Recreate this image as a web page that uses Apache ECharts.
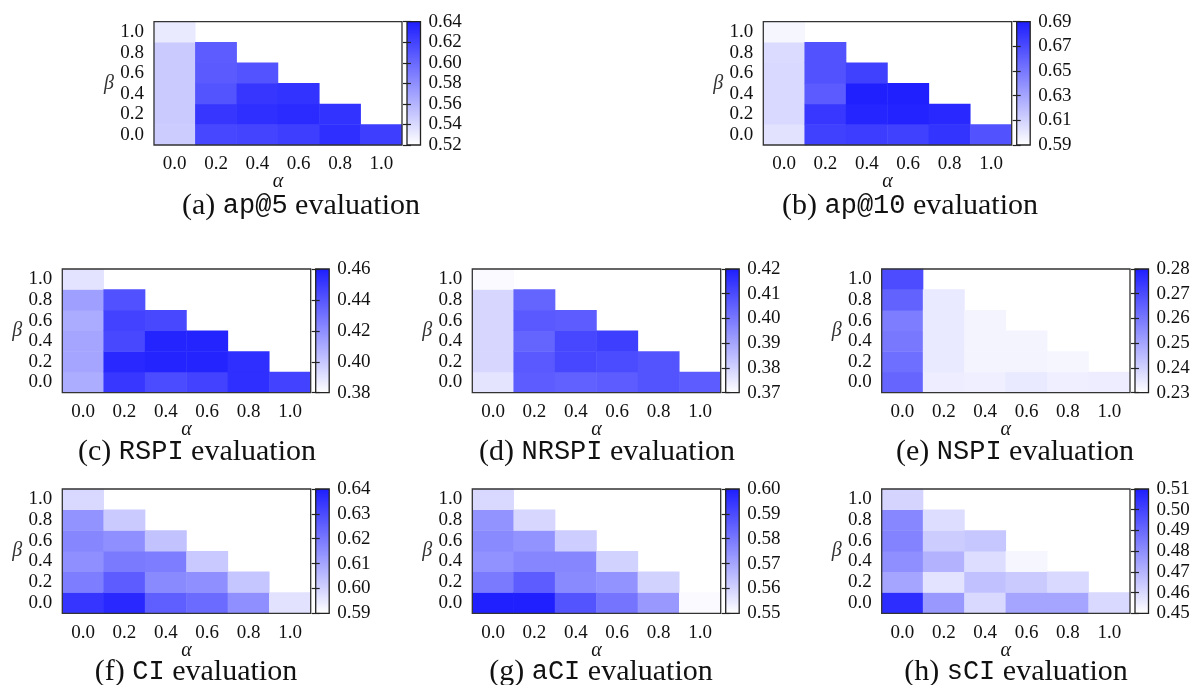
<!doctype html>
<html>
<head>
<meta charset="utf-8">
<script src="https://cdn.jsdelivr.net/npm/echarts@6/dist/echarts.min.js"></script>
<style>
html,body{margin:0;padding:0;background:#fff;}
#main{width:1193px;height:685px;}
</style>
</head>
<body>
<div id="main"></div>
<script type="text/javascript">
// alpha / beta grid steps
var steps = ['0.0', '0.2', '0.4', '0.6', '0.8', '1.0'];

// each list = one alpha column, values from beta=0.0 upwards (alpha+beta<=1)
var ap5 = [
  [0.547, 0.548, 0.548, 0.548, 0.548, 0.531],
  [0.618, 0.627, 0.611, 0.608, 0.607],
  [0.620, 0.631, 0.627, 0.612],
  [0.623, 0.633, 0.629],
  [0.631, 0.629],
  [0.623]
];
var ap10 = [
  [0.603, 0.607, 0.607, 0.607, 0.606, 0.594],
  [0.675, 0.679, 0.663, 0.667, 0.667],
  [0.676, 0.687, 0.689, 0.675],
  [0.675, 0.688, 0.689],
  [0.680, 0.685],
  [0.667]
];
var rspi = [
  [0.409, 0.412, 0.412, 0.410, 0.414, 0.390],
  [0.451, 0.456, 0.445, 0.447, 0.442],
  [0.444, 0.458, 0.458, 0.445],
  [0.447, 0.458, 0.458],
  [0.454, 0.454],
  [0.447]
];
var nrspi = [
  [0.376, 0.379, 0.379, 0.379, 0.379, 0.371],
  [0.406, 0.407, 0.4045, 0.407, 0.4045],
  [0.405, 0.411, 0.411, 0.406],
  [0.406, 0.410, 0.413],
  [0.408, 0.408],
  [0.406]
];
var nspi = [
  [0.264, 0.262, 0.260, 0.259, 0.265, 0.2695],
  [0.234, 0.235, 0.235, 0.235, 0.235],
  [0.2335, 0.2325, 0.2325, 0.2325],
  [0.235, 0.2325, 0.2325],
  [0.2335, 0.232],
  [0.234]
];
var ci = [
  [0.635, 0.619, 0.615, 0.617, 0.614, 0.5985],
  [0.6375, 0.626, 0.6195, 0.615, 0.6017],
  [0.6255, 0.616, 0.619, 0.6035],
  [0.623, 0.615, 0.602],
  [0.615, 0.603],
  [0.5965]
];
var aci = [
  [0.5995, 0.5795, 0.5745, 0.576, 0.574, 0.5585],
  [0.5995, 0.586, 0.577, 0.574, 0.559],
  [0.588, 0.576, 0.577, 0.561],
  [0.581, 0.574, 0.560],
  [0.573, 0.560],
  [0.551]
];
var sci = [
  [0.506, 0.474, 0.480, 0.483, 0.482, 0.4615],
  [0.4775, 0.4575, 0.4705, 0.4635, 0.459],
  [0.460, 0.4665, 0.459, 0.465],
  [0.474, 0.464, 0.4525],
  [0.474, 0.460],
  [0.460]
];

// colorbar tick labels
var ap5Ticks = ['0.52', '0.54', '0.56', '0.58', '0.60', '0.62', '0.64'];
var ap10Ticks = ['0.59', '0.61', '0.63', '0.65', '0.67', '0.69'];
var rspiTicks = ['0.38', '0.40', '0.42', '0.44', '0.46'];
var nrspiTicks = ['0.37', '0.38', '0.39', '0.40', '0.41', '0.42'];
var nspiTicks = ['0.23', '0.24', '0.25', '0.26', '0.27', '0.28'];
var ciTicks = ['0.59', '0.60', '0.61', '0.62', '0.63', '0.64'];
var aciTicks = ['0.55', '0.56', '0.57', '0.58', '0.59', '0.60'];
var sciTicks = ['0.45', '0.46', '0.47', '0.48', '0.49', '0.50', '0.51'];

var tags = ['(a) ', '(b) ', '(c) ', '(d) ', '(e) ', '(f) ', '(g) ', '(h) '];
var metrics = ['ap@5', 'ap@10', 'RSPI', 'NRSPI', 'NSPI', 'CI', 'aCI', 'sCI'];

var panels = [
  {vals: ap5, ticks: ap5Ticks, plot: [154, 21.7, 248, 123.3], bar: 407, cap: [301, 206]},
  {vals: ap10, ticks: ap10Ticks, plot: [763.3, 21.7, 248.4, 123.3], bar: 1016.7, cap: [910, 206]},
  {vals: rspi, ticks: rspiTicks, plot: [62.3, 269, 248.4, 123.7], bar: 315.7, cap: [197, 452]},
  {vals: nrspi, ticks: nrspiTicks, plot: [472.3, 269, 248.4, 123.7], bar: 725.7, cap: [607, 452]},
  {vals: nspi, ticks: nspiTicks, plot: [881.7, 269, 248.3, 123.7], bar: 1135, cap: [1015, 452]},
  {vals: ci, ticks: ciTicks, plot: [62.3, 489, 248.4, 124.3], bar: 315.7, cap: [196, 672]},
  {vals: aci, ticks: aciTicks, plot: [472.3, 489, 248.4, 124.3], bar: 725.7, cap: [601, 672]},
  {vals: sci, ticks: sciTicks, plot: [881.7, 489, 248.3, 124.3], bar: 1135, cap: [1016, 672]}
];

var BLUE = '#1e1eff';
var SERIF = '"Liberation Serif", "Times New Roman", serif';
var MONO = '"Liberation Mono", monospace';
var INK = '#111';
var BAR_W = 13.5;

var myChart = echarts.init(document.getElementById('main'));

var grid = [], xAxis = [], yAxis = [], series = [], visualMap = [], graphic = [];

function barTicks(pos, g, ticks, labels) {
  return {
    gridIndex: g, type: 'category', data: ticks, boundaryGap: false, position: pos, z: 12,
    axisLine: {show: false},
    axisTick: {show: true, inside: true, length: 4, interval: 0, lineStyle: {color: '#222', width: 1.2}},
    axisLabel: labels ? {interval: 0, margin: 8, fontFamily: SERIF, fontSize: 19, color: INK} : {show: false}
  };
}

panels.forEach(function (p, k) {
  var g = grid.length;
  var xi = xAxis.length, yi = yAxis.length;
  // heatmap frame
  grid.push({left: p.plot[0], top: p.plot[1], width: p.plot[2], height: p.plot[3],
    show: true, borderColor: '#333', borderWidth: 1.3, backgroundColor: 'transparent', z: 10});
  xAxis.push({
    gridIndex: g, type: 'category', data: steps,
    axisLine: {show: false}, axisTick: {show: false},
    axisLabel: {interval: 0, margin: 10, fontFamily: SERIF, fontSize: 19, color: INK},
    name: 'α', nameLocation: 'middle', nameGap: 27, nameMoveOverlap: false,
    nameTextStyle: {fontFamily: SERIF, fontStyle: 'italic', fontSize: 20, color: INK}
  });
  yAxis.push({
    gridIndex: g, type: 'category', data: steps,
    axisLine: {show: false}, axisTick: {show: false},
    axisLabel: {interval: 0, margin: 10, fontFamily: SERIF, fontSize: 19, color: INK},
    name: 'β', nameLocation: 'middle', nameRotate: 0, nameGap: 40, nameMoveOverlap: false,
    nameTextStyle: {fontFamily: SERIF, fontStyle: 'italic', fontSize: 20, color: '#333'}
  });

  var data = [];
  p.vals.forEach(function (col, i) {
    col.forEach(function (v, j) { data.push([i, j, v]); });
  });
  series.push({
    type: 'heatmap', xAxisIndex: xi, yAxisIndex: yi, data: data,
    itemStyle: {borderWidth: 0},
    emphasis: {disabled: true}
  });
  visualMap.push({
    type: 'continuous', show: false, seriesIndex: k, dimension: 2,
    min: parseFloat(p.ticks[0]), max: parseFloat(p.ticks[p.ticks.length - 1]),
    inRange: {color: ['#ffffff', BLUE]}
  });

  // colorbar: gradient strip underneath, frame + tick axes on top
  graphic.push({
    type: 'rect', z: 1, silent: true,
    shape: {x: p.bar, y: p.plot[1], width: BAR_W, height: p.plot[3]},
    style: {fill: new echarts.graphic.LinearGradient(0, 0, 0, 1, [
      {offset: 0, color: BLUE}, {offset: 1, color: '#ffffff'}
    ])}
  });
  var c = grid.length;
  grid.push({left: p.bar, top: p.plot[1], width: BAR_W, height: p.plot[3],
    show: true, borderColor: '#222', borderWidth: 1.3, backgroundColor: 'transparent', z: 10});
  xAxis.push({gridIndex: c, type: 'value', show: false});
  yAxis.push(barTicks('right', c, p.ticks, true));
  yAxis.push(barTicks('left', c, p.ticks, false));

  // caption
  graphic.push({
    type: 'text', x: p.cap[0], y: p.cap[1], silent: true,
    style: {
      text: '{s|' + tags[k] + '}{m|' + metrics[k] + '}{s| evaluation}',
      rich: {
        s: {fontFamily: SERIF, fontSize: 30, fill: INK},
        m: {fontFamily: MONO, fontSize: 27, fill: INK}
      },
      align: 'center', verticalAlign: 'middle'
    }
  });
});

var option = {
  animation: false,
  backgroundColor: '#fff',
  grid: grid,
  xAxis: xAxis,
  yAxis: yAxis,
  visualMap: visualMap,
  series: series,
  graphic: graphic
};

myChart.setOption(option);
</script>
</body>
</html>
